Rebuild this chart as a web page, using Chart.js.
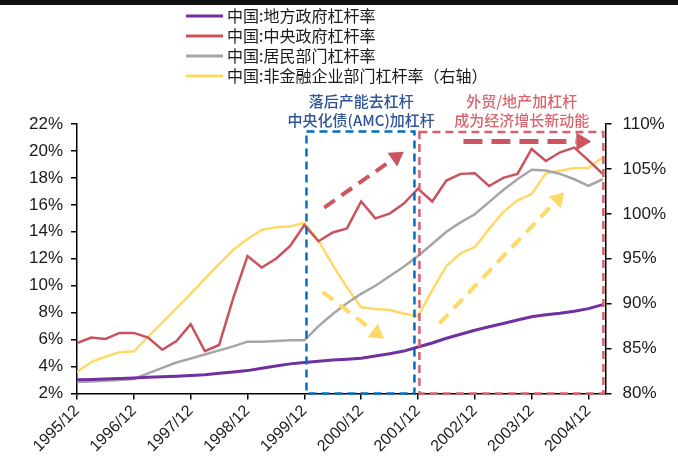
<!DOCTYPE html>
<html>
<head>
<meta charset="utf-8">
<script src="https://cdn.jsdelivr.net/npm/chart.js@4.4.1/dist/chart.umd.min.js"></script>
<style>
  html, body { margin: 0; padding: 0; background: #fff; }
  #wrap { position: relative; width: 678px; height: 463px; overflow: hidden; }
  #wrap canvas { position: absolute; left: 0; top: 0; }
  #topbar { position: absolute; left: 0; top: 0; width: 678px; height: 5px; background: #111; }
</style>
</head>
<body>
<div id="wrap">
  <canvas id="lev" width="678" height="463"></canvas>
  <div id="topbar"></div>
</div>
<script>
// quarterly, 1995/12 .. 2005/03
const quarters = [
  '1995/12', '1996/03', '1996/06', '1996/09', '1996/12', '1997/03', '1997/06', '1997/09',
  '1997/12', '1998/03', '1998/06', '1998/09', '1998/12', '1999/03', '1999/06', '1999/09',
  '1999/12', '2000/03', '2000/06', '2000/09', '2000/12', '2001/03', '2001/06', '2001/09',
  '2001/12', '2002/03', '2002/06', '2002/09', '2002/12', '2003/03', '2003/06', '2003/09',
  '2003/12', '2004/03', '2004/06', '2004/09', '2004/12', '2005/03'
];

const localGov = [
  3.02, 3.05, 3.08, 3.12, 3.16, 3.2, 3.24, 3.28, 3.33, 3.4, 3.5, 3.6, 3.7, 3.88, 4.05, 4.2,
  4.3, 4.4, 4.48, 4.55, 4.62, 4.78, 4.95, 5.15, 5.45, 5.75, 6.1, 6.4, 6.7, 6.95, 7.2, 7.45,
  7.7, 7.85, 7.95, 8.1, 8.3, 8.6
];
const centralGov = [
  5.75, 6.15, 6.05, 6.5, 6.5, 6.15, 5.25, 5.9, 7.15, 5.15, 5.6, 9.1, 12.2, 11.35, 12.0, 12.95,
  14.5, 13.3, 13.95, 14.25, 16.25, 15.0, 15.35, 16.1, 17.2, 16.25, 17.8, 18.3, 18.35, 17.4, 18.0, 18.3,
  20.15, 19.25, 19.9, 20.25, 19.3, 18.3
];
const household = [
  2.85, 2.9, 2.95, 3.0, 3.08, 3.5, 3.9, 4.3, 4.6, 4.9, 5.2, 5.5, 5.85, 5.85, 5.9, 5.95,
  5.95, 7.0, 7.9, 8.7, 9.4, 10.0, 10.7, 11.4, 12.2, 13.1, 14.0, 14.7, 15.3, 16.2, 17.1, 17.9,
  18.6, 18.55, 18.3, 17.9, 17.4, 17.9
];
// right axis
const corporate = [
  82.4, 83.5, 84.1, 84.6, 84.7, 86.3, 87.9, 89.5, 91.1, 92.8, 94.4, 96.0, 97.2, 98.2, 98.5, 98.6,
  99.0, 97.0, 94.3, 91.8, 89.6, 89.4, 89.3, 88.9, 88.6, 91.5, 94.2, 95.6, 96.3, 98.3, 100.2, 101.5,
  102.2, 104.5, 104.8, 105.1, 105.1, 106.3
];

const seriesNames = ['中国:地方政府杠杆率', '中国:中央政府杠杆率', '中国:居民部门杠杆率', '中国:非金融企业部门杠杆率（右轴）'];
const seriesColors = ['#7030a0', '#c9525c', '#a6a6a6', '#ffd966'];

const yearTicks = quarters.map((q, i) => q.endsWith('/12') ? i : -1).filter(i => i >= 0);
const toPoints = arr => arr.map((v, i) => ({ x: i, y: v }));

// phase boxes / arrows in data units (x = quarter index, y = left axis unless noted)
const deleverBox = { x0: 16.15, x1: 23.75, top: 21.45 };
const releverBox = { x0: 24.1, x1: 37.05, top: 21.4 };
const deleverNotes = ['落后产能去杠杆', '中央化债(AMC)加杠杆'];
const releverNotes = ['外贸/地产加杠杆', '成为经济增长新动能'];

function dashedArrow(ctx, x0, y0, x1, y1, color, width, dash, head) {
  const a = Math.atan2(y1 - y0, x1 - x0);
  const bx = x1 - Math.cos(a) * head;
  const by = y1 - Math.sin(a) * head;
  const hw = head * 0.6;
  ctx.save();
  ctx.strokeStyle = color;
  ctx.fillStyle = color;
  ctx.lineWidth = width;
  ctx.setLineDash(dash);
  ctx.beginPath();
  ctx.moveTo(x0, y0);
  ctx.lineTo(bx, by);
  ctx.stroke();
  ctx.setLineDash([]);
  ctx.beginPath();
  ctx.moveTo(x1, y1);
  ctx.lineTo(bx + Math.sin(a) * hw, by - Math.cos(a) * hw);
  ctx.lineTo(bx - Math.sin(a) * hw, by + Math.cos(a) * hw);
  ctx.closePath();
  ctx.fill();
  ctx.restore();
}

function dashedBox(ctx, x, y, box, color) {
  const l = x.getPixelForValue(box.x0);
  const r = x.getPixelForValue(box.x1);
  const t = y.getPixelForValue(box.top);
  const b = y.getPixelForValue(y.min);
  ctx.save();
  ctx.strokeStyle = color;
  ctx.lineWidth = 2.5;
  ctx.setLineDash([8, 5]);
  ctx.strokeRect(l, t, r - l, b - t);
  ctx.restore();
}

const phasePlugin = {
  id: 'phases',
  afterDatasetsDraw(chart) {
    const { ctx, scales: { x, y, y1 } } = chart;
    dashedBox(ctx, x, y, deleverBox, '#0070c0');
    dashedBox(ctx, x, y, releverBox, '#d6606c');

    const X = v => x.getPixelForValue(v);
    dashedArrow(ctx, X(17.4), y.getPixelForValue(15.8), X(23.0), y.getPixelForValue(19.95), '#cd5560', 4, [13, 8], 14);
    dashedArrow(ctx, X(27.2), y.getPixelForValue(20.7), X(36.2), y.getPixelForValue(20.7), '#cd5560', 5, [19, 9], 15);
    dashedArrow(ctx, X(17.3), y1.getPixelForValue(91.3), X(21.6), y1.getPixelForValue(86.1), '#ffd966', 4, [13, 8], 14);
    dashedArrow(ctx, X(25.5), y1.getPixelForValue(87.8), X(34.3), y1.getPixelForValue(102.4), '#ffd966', 4, [13, 8], 14);

    const top = chart.chartArea.top;
    ctx.save();
    ctx.font = '500 15px "Noto Sans CJK SC"';
    ctx.textAlign = 'center';
    ctx.textBaseline = 'middle';
    ctx.fillStyle = '#2f5597';
    deleverNotes.forEach((s, i) => ctx.fillText(s, X(20.0), top - 23 + i * 19));
    ctx.fillStyle = '#d9646e';
    releverNotes.forEach((s, i) => ctx.fillText(s, X(31.3), top - 23 + i * 19));
    ctx.restore();
  },
  afterDraw(chart) {
    // legend, one series per row
    const ctx = chart.ctx;
    ctx.save();
    ctx.font = '16px "Noto Sans CJK SC"';
    ctx.textBaseline = 'middle';
    chart.data.datasets.forEach((ds, i) => {
      const cy = 16 + i * 20;
      ctx.strokeStyle = ds.borderColor;
      ctx.lineWidth = 3;
      ctx.beginPath();
      ctx.moveTo(186, cy);
      ctx.lineTo(223, cy);
      ctx.stroke();
      ctx.fillStyle = '#1a1a1a';
      ctx.fillText(ds.label, 227, cy);
    });
    ctx.restore();
  }
};

Chart.defaults.font.family = '"Liberation Sans", Arial, sans-serif';
Chart.defaults.font.size = 17;
Chart.defaults.color = '#1a1a1a';

const axisGrid = { display: true, drawOnChartArea: false, drawTicks: true, tickLength: 6, color: '#000', lineWidth: 1.5 };
const axisBorder = { display: true, color: '#000', width: 1.5 };

new Chart(document.getElementById('lev'), {
  type: 'line',
  data: {
    datasets: [
      { label: seriesNames[0], data: toPoints(localGov), borderColor: seriesColors[0], borderWidth: 3, yAxisID: 'y' },
      { label: seriesNames[1], data: toPoints(centralGov), borderColor: seriesColors[1], borderWidth: 2.5, yAxisID: 'y' },
      { label: seriesNames[2], data: toPoints(household), borderColor: seriesColors[2], borderWidth: 2.5, yAxisID: 'y' },
      { label: seriesNames[3], data: toPoints(corporate), borderColor: seriesColors[3], borderWidth: 2.5, yAxisID: 'y1' }
    ]
  },
  options: {
    responsive: false,
    animation: false,
    devicePixelRatio: 1,
    elements: { point: { radius: 0 }, line: { tension: 0, fill: false } },
    layout: { padding: { left: 21, right: 1, top: 124, bottom: 5 } },
    plugins: { legend: { display: false }, tooltip: { enabled: false } },
    scales: {
      x: {
        type: 'linear',
        min: 0,
        max: 37.2,
        afterBuildTicks: s => { s.ticks = yearTicks.map(v => ({ value: v })); },
        ticks: {
          autoSkip: false,
          minRotation: 45,
          maxRotation: 45,
          padding: 2,
          font: { size: 16 },
          callback: v => quarters[v] || ''
        },
        grid: axisGrid,
        border: axisBorder
      },
      y: {
        position: 'left',
        min: 2,
        max: 22,
        ticks: { stepSize: 2, padding: 8, callback: v => v + '%' },
        grid: axisGrid,
        border: axisBorder
      },
      y1: {
        position: 'right',
        min: 80,
        max: 110,
        ticks: { stepSize: 5, padding: 11, callback: v => v + '%' },
        grid: axisGrid,
        border: axisBorder
      }
    }
  },
  plugins: [phasePlugin]
});
</script>
</body>
</html>
